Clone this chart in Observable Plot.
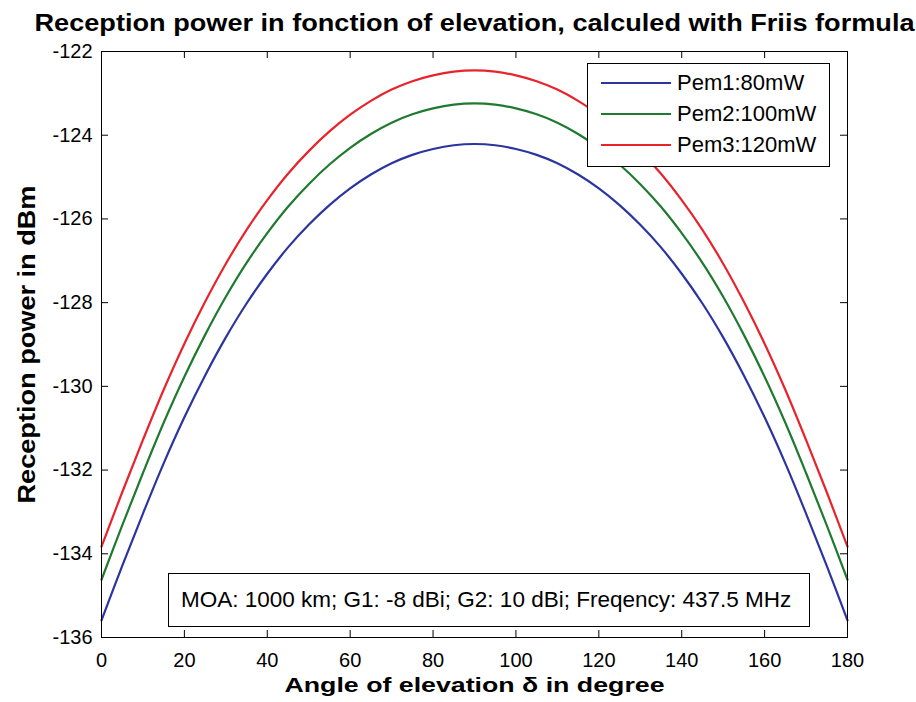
<!DOCTYPE html>
<html>
<head>
<meta charset="utf-8">
<script src="https://cdn.jsdelivr.net/npm/d3@7"></script>
<script src="https://cdn.jsdelivr.net/npm/@observablehq/plot@0.6"></script>
<style>
  html, body { margin: 0; padding: 0; background: #fff; }
  #wrap { position: relative; width: 916px; height: 702px; font-family: "Liberation Sans", Arial, Helvetica, sans-serif; color: #000; }
  .box { position: absolute; background: #fff; border: 1px solid #000; box-sizing: border-box; }
  .legline { position: absolute; height: 2px; }
  .legtxt { position: absolute; font-size: 22px; line-height: 22px; white-space: nowrap; }
</style>
</head>
<body>
<div id="wrap"></div>
<script>
const titleText = "Reception power in fonction of elevation, calculed with Friis formula";
const xLabel = "Angle of elevation δ in degree";
const yLabel = "Reception power in dBm";
const note = "MOA: 1000 km; G1: -8 dBi; G2: 10 dBi; Freqency: 437.5 MHz";

const seriesNames = ["Pem1:80mW", "Pem2:100mW", "Pem3:120mW"];
const seriesColors = ["#2b35a0", "#1f7a2f", "#e8232b"];

const xTicks = [0, 20, 40, 60, 80, 100, 120, 140, 160, 180];
const yTicks = [-136, -134, -132, -130, -128, -126, -124, -122];

const angles = [0,5,10,15,20,25,30,35,40,45,50,55,60,65,70,75,80,85,90,95,100,105,110,115,120,125,130,135,140,145,150,155,160,165,170,175,180];

const pem1 = [-135.59,-134.29,-133.04,-131.84,-130.74,-129.74,-128.83,-128.02,-127.31,-126.68,-126.14,-125.67,-125.27,-124.94,-124.67,-124.47,-124.33,-124.24,-124.21,-124.24,-124.33,-124.47,-124.67,-124.94,-125.27,-125.67,-126.14,-126.68,-127.31,-128.02,-128.83,-129.74,-130.74,-131.84,-133.04,-134.29,-135.59];
const pem2 = [-134.62,-133.32,-132.07,-130.87,-129.77,-128.77,-127.86,-127.05,-126.34,-125.71,-125.17,-124.70,-124.30,-123.97,-123.70,-123.50,-123.36,-123.27,-123.24,-123.27,-123.36,-123.50,-123.70,-123.97,-124.30,-124.70,-125.17,-125.71,-126.34,-127.05,-127.86,-128.77,-129.77,-130.87,-132.07,-133.32,-134.62];
const pem3 = [-133.83,-132.53,-131.28,-130.08,-128.98,-127.98,-127.07,-126.26,-125.55,-124.92,-124.38,-123.91,-123.51,-123.18,-122.91,-122.71,-122.57,-122.48,-122.45,-122.48,-122.57,-122.71,-122.91,-123.18,-123.51,-123.91,-124.38,-124.92,-125.55,-126.26,-127.07,-127.98,-128.98,-130.08,-131.28,-132.53,-133.83];

const allSeries = [pem1, pem2, pem3];
const rows = [];
allSeries.forEach((vals, s) => vals.forEach((v, i) => rows.push({angle: angles[i], power: v, series: seriesNames[s]})));

const tickLenX = 1.69;   // in degrees (~7px)
const tickLenY = 0.167;  // in dBm (~7px)

const chart = Plot.plot({
  width: 916,
  height: 702,
  marginLeft: 101,
  marginRight: 69,
  marginTop: 51,
  marginBottom: 65,
  style: {fontFamily: '"Liberation Sans", Arial, Helvetica, sans-serif', background: "#fff", color: "#000", overflow: "visible"},
  x: {domain: [0, 180]},
  y: {domain: [-136, -122]},
  color: {domain: seriesNames, range: seriesColors},
  marks: [
    Plot.line(rows, {x: "angle", y: "power", z: "series", stroke: "series", strokeWidth: 2.2, curve: "catmull-rom"}),
    // inward ticks on all four sides
    Plot.ruleX(xTicks, {x: d => d, y1: -136, y2: -136 + tickLenY, stroke: "#000", strokeWidth: 1}),
    Plot.ruleX(xTicks, {x: d => d, y1: -122, y2: -122 - tickLenY, stroke: "#000", strokeWidth: 1}),
    Plot.ruleY(yTicks, {y: d => d, x1: 0, x2: tickLenX, stroke: "#000", strokeWidth: 1}),
    Plot.ruleY(yTicks, {y: d => d, x1: 180, x2: 180 - tickLenX, stroke: "#000", strokeWidth: 1}),
    Plot.frame({stroke: "#000", strokeWidth: 1}),
    Plot.axisX({ticks: xTicks, tickSize: 0, tickPadding: 15, fontSize: 20, label: null, tickFormat: d => String(d)}),
    Plot.axisY({ticks: yTicks, tickSize: 0, tickPadding: 9, fontSize: 20, label: null, tickFormat: d => String(d)}),
    Plot.text([titleText], {frameAnchor: "top", dy: -28, fontSize: 24, fontWeight: "bold", lineAnchor: "middle", textAnchor: "middle", fill: "#000"}),
    Plot.text([xLabel], {frameAnchor: "bottom", dy: 47.5, fontSize: 21, fontWeight: "bold", lineAnchor: "middle", textAnchor: "middle", fill: "#000"}),
    Plot.text([yLabel], {frameAnchor: "left", dx: -74, rotate: -90, fontSize: 23, fontWeight: "bold", lineAnchor: "middle", textAnchor: "middle", fill: "#000"})
  ]
});

// stretch the bold labels to the reference's wider glyph widths
const targetLengths = new Map([[titleText, 880], [xLabel, 380], [yLabel, 318]]);
chart.querySelectorAll("text").forEach(t => {
  const L = targetLengths.get(t.textContent);
  if (L) {
    t.setAttribute("textLength", L);
    t.setAttribute("lengthAdjust", "spacingAndGlyphs");
  }
});

const wrap = document.getElementById("wrap");
wrap.appendChild(chart);

// legend
const leg = document.createElement("div");
leg.className = "box";
Object.assign(leg.style, {left: "587px", top: "63px", width: "243px", height: "104px"});
seriesNames.forEach((name, i) => {
  const cy = 19 + i * 31;
  const ln = document.createElement("div");
  ln.className = "legline";
  Object.assign(ln.style, {left: "13px", top: (cy - 1) + "px", width: "70px", background: seriesColors[i]});
  leg.appendChild(ln);
  const tx = document.createElement("div");
  tx.className = "legtxt";
  tx.textContent = name;
  Object.assign(tx.style, {left: "89px", top: (cy - 11) + "px"});
  leg.appendChild(tx);
});
wrap.appendChild(leg);

// annotation box
const ann = document.createElement("div");
ann.className = "box";
Object.assign(ann.style, {left: "168px", top: "573px", width: "642px", height: "54px"});
const at = document.createElement("div");
at.className = "legtxt";
at.textContent = note;
Object.assign(at.style, {left: "12px", top: "15px", fontSize: "22.5px"});
ann.appendChild(at);
wrap.appendChild(ann);
</script>
</body>
</html>
